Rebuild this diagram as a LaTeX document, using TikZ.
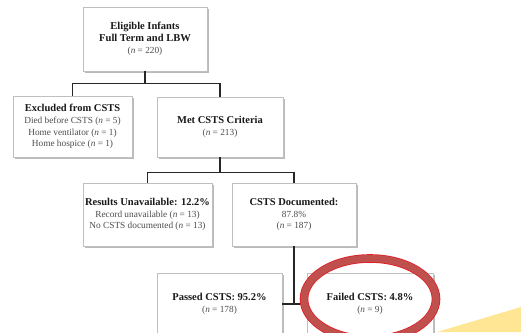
\documentclass[tikz,border=0pt]{standalone}
\usepackage{fontspec}
\setmainfont{Liberation Serif}
\usetikzlibrary{shadows}
\definecolor{ringred}{RGB}{192,80,77}
\definecolor{ringedge}{RGB}{226,30,36}
\definecolor{wedge}{RGB}{254,230,148}
\newcommand{\ttl}[1]{{\fontsize{10.5}{12.5}\selectfont\bfseries\color{black!90}#1}}

\begin{document}
\begin{tikzpicture}[x=1pt, y=-1pt,
        box/.style={draw=black!25, fill=white, line width=0.6pt, align=center,
            inner sep=0pt, text=black!70, font=\fontsize{9.3}{11.8}\selectfont,
            drop shadow={shadow xshift=1.5pt, shadow yshift=-1.8pt, fill=black!45, opacity=0.6}},
        link/.style={draw=black!85, line width=1.4pt},
        ring/.style={draw=ringedge, line width=0.8pt, double=ringred, double distance=7pt}]
            \useasboundingbox (0,0) rectangle (521,332);
            \clip (0,0) rectangle (521,332);
            \fill[wedge] (437,332) -- (521,307) -- (521,332) -- cycle;
            \node [box, minimum width=124pt, minimum height=64pt] (eligible) at (145,39)
                {\ttl{Eligible Infants}\\ \ttl{Full Term and LBW}\\ (\textit{n} = 220)};
            \node [box, minimum width=119pt, minimum height=61pt] (excluded) at (72.5,126.5)
                {\ttl{Excluded from CSTS}\\ Died before CSTS (\textit{n} = 5)\\ Home ventilator (\textit{n} = 1)\\ Home hospice (\textit{n} = 1)};
            \node [box, minimum width=126pt, minimum height=60pt] (met) at (220,127)
                {\ttl{Met CSTS Criteria}\\ (\textit{n} = 213)};
            \node [box, minimum width=129pt, minimum height=63pt] (unavail) at (147.5,214.5)
                {\ttl{Results Unavailable: 12.2\%}\\ Record unavailable (\textit{n} = 13)\\ No CSTS documented (\textit{n} = 13)};
            \node [box, minimum width=124pt, minimum height=63pt] (documented) at (294,214.5)
                {\ttl{CSTS Documented:}\\ 87.8\%\\ (\textit{n} = 187)};
            \node [box, minimum width=125pt, minimum height=62pt] (passed) at (219.5,304)
                {\ttl{Passed CSTS: 95.2\%}\\ (\textit{n} = 178)};
            \node [box, minimum width=126pt, minimum height=62pt] (failed) at (370,304)
                {\ttl{Failed CSTS: 4.8\%}\\ (\textit{n} = 9)};
            \draw[link] (eligible.south) -- ++(0,12) coordinate (split1);
            \draw[link] (excluded.north) |- (split1) -| (met.north);
            \draw[link] (met.south) -- ++(0,15) coordinate (split2);
            \draw[link] (unavail.north) |- (split2) -| (documented.north);
            \draw[link] (documented.south) -- (documented.south |- passed.east);
            \draw[link] (passed.east) -- (failed.west);
            \draw[ring] (370,299) ellipse [x radius=66pt, y radius=40.5pt];
        \end{tikzpicture}
\end{document}
